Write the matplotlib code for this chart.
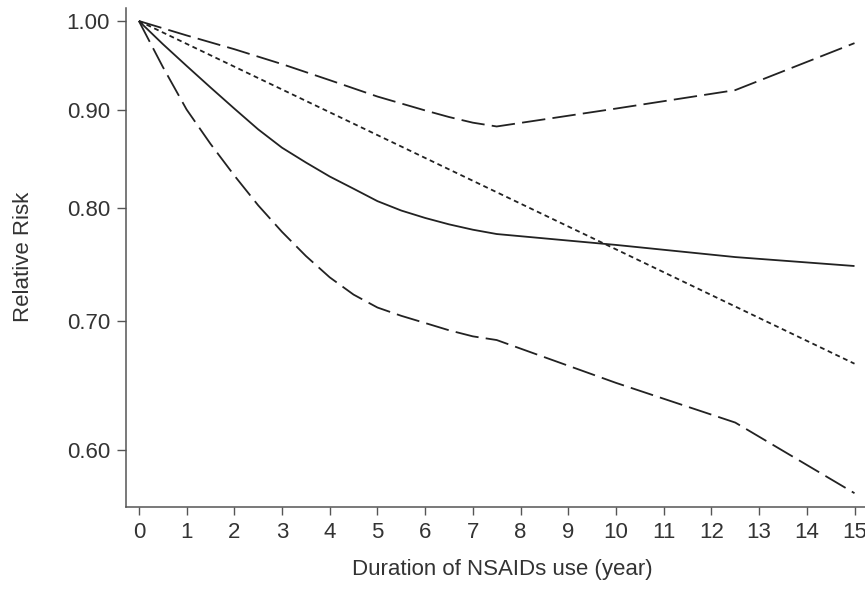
import matplotlib
matplotlib.use("Agg")
import matplotlib.pyplot as plt
from matplotlib.ticker import FixedLocator, NullLocator

# Data
years_fit = [0, 0.5, 1, 1.5, 2, 2.5, 3, 3.5, 4, 4.5, 5, 5.5, 6, 6.5, 7, 7.5, 10, 12.5, 15]
rr_fit = [1.00, 0.973, 0.948, 0.924, 0.901, 0.879, 0.860, 0.845, 0.831, 0.819, 0.807,
          0.798, 0.791, 0.785, 0.780, 0.776, 0.766, 0.755, 0.747]

years_upper = [0, 1, 2, 3, 4, 5, 6, 6.5, 7, 7.5, 10, 12.5, 15]
rr_upper = [1.00, 0.983, 0.967, 0.950, 0.932, 0.914, 0.899, 0.892, 0.886, 0.882,
            0.901, 0.921, 0.974]

years_lower = [0, 0.5, 1, 1.5, 2, 2.5, 3, 3.5, 4, 4.5, 5, 5.5, 6, 6.5, 7, 7.5, 10, 12.5, 15]
rr_lower = [1.00, 0.947, 0.900, 0.864, 0.832, 0.803, 0.778, 0.756, 0.737, 0.722, 0.711,
            0.704, 0.698, 0.692, 0.687, 0.684, 0.650, 0.620, 0.570]

years_linear = [0, 5, 10, 15]
rr_linear = [1.00, 0.873, 0.762, 0.665]

x_ticks = list(range(0, 16))
y_ticks = [0.60, 0.70, 0.80, 0.90, 1.00]
y_tick_labels = ["0.60", "0.70", "0.80", "0.90", "1.00"]

plt.rcParams['font.family'] = ['Liberation Sans', 'DejaVu Sans']

fig = plt.figure(figsize=(8.65, 5.91), dpi=100)
ax = fig.add_axes([126/865, 1 - 507/591, 1 - 126/865, (507 - 8)/591])

line_col = "#222222"
ax.plot(years_fit, rr_fit, color=line_col, lw=1.3, solid_capstyle='butt')
ax.plot(years_upper, rr_upper, color=line_col, lw=1.3, dashes=(13, 4))
ax.plot(years_lower, rr_lower, color=line_col, lw=1.3, dashes=(13, 4))
ax.plot(years_linear, rr_linear, color=line_col, lw=1.3, dashes=(2.7, 2.0))

ax.set_yscale('log')
ax.set_xlim(-0.27, 15.22)
ax.set_ylim(0.5607, 1.0156)

ax.yaxis.set_major_locator(FixedLocator(y_ticks))
ax.yaxis.set_minor_locator(NullLocator())
ax.set_yticklabels(y_tick_labels)
ax.set_xticks(x_ticks)
ax.set_xticklabels([str(v) for v in x_ticks])

spine_col = "#555555"
text_col = "#333333"
for s in ['top', 'right']:
    ax.spines[s].set_visible(False)
for s in ['left', 'bottom']:
    ax.spines[s].set_color(spine_col)
    ax.spines[s].set_linewidth(1.1)

ax.tick_params(axis='both', which='major', direction='out',
               width=1.0, color=spine_col, labelcolor=text_col, labelsize=16, pad=5)
ax.tick_params(axis='y', length=6.5)
ax.tick_params(axis='x', length=6)

ax.set_ylabel("Relative Risk", fontsize=16, color=text_col)
ax.set_xlabel("Duration of NSAIDs use (year)", fontsize=16, color=text_col)
ax.yaxis.set_label_coords((23 - 126) / (865 - 126), (507 - 256.5) / (507 - 8))
ax.xaxis.set_label_coords((502 - 126) / (865 - 126), -(570 - 507) / (507 - 8))
ax.xaxis.label.set_va('center')
ax.yaxis.label.set_va('center')

fig.savefig("out.png", dpi=100)
